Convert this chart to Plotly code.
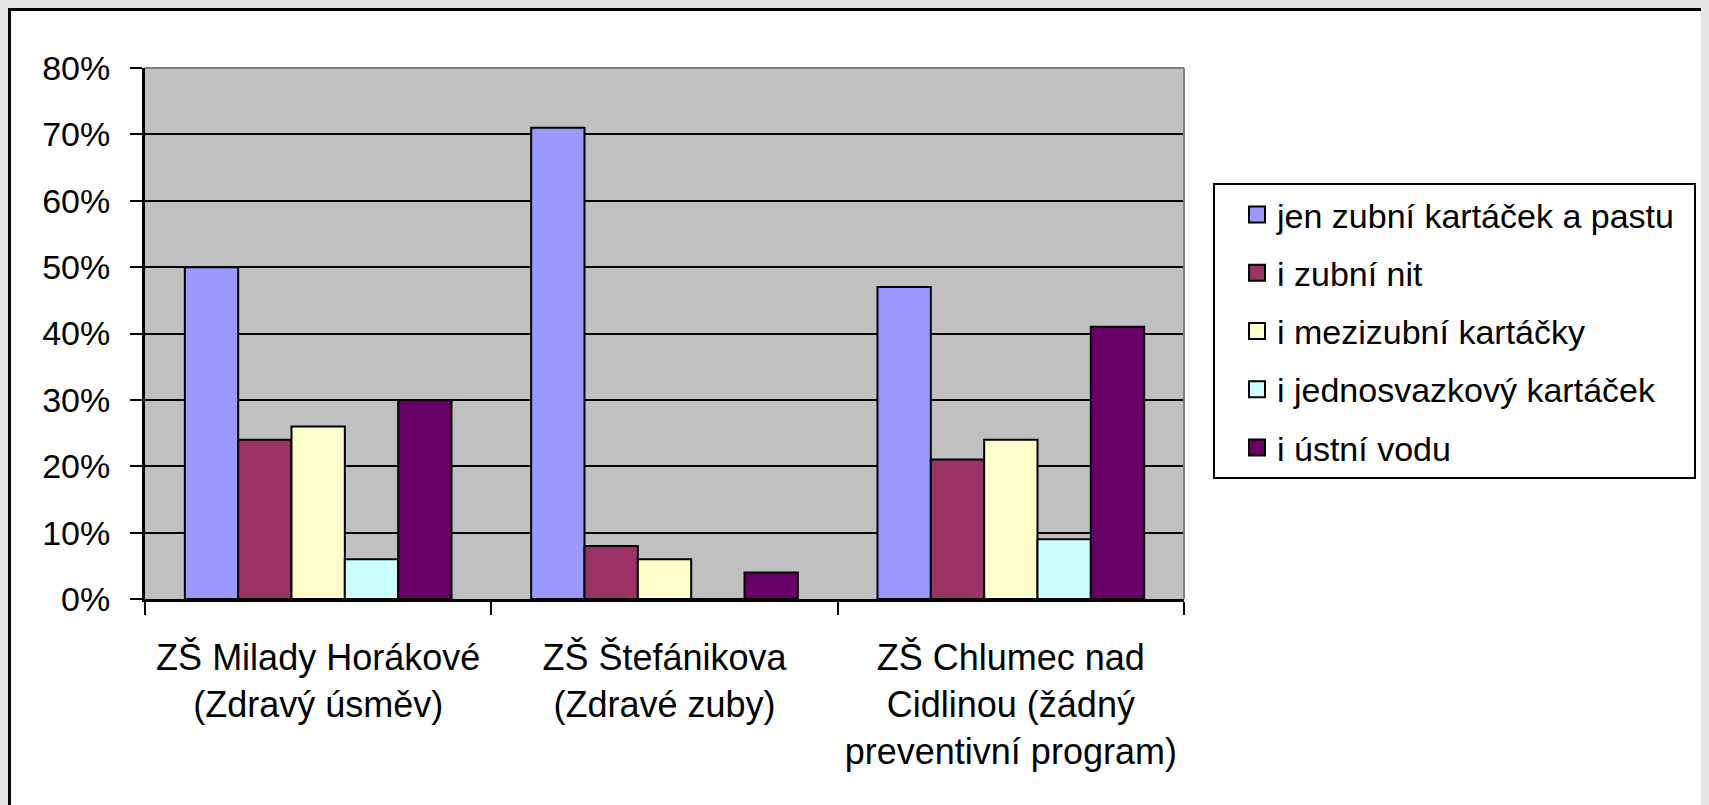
import plotly.graph_objects as go

# ---- data ----
schools = [
    "ZŠ Milady Horákové<br>(Zdravý úsměv)",
    "ZŠ Štefánikova<br>(Zdravé zuby)",
    "ZŠ Chlumec nad<br>Cidlinou (žádný<br>preventivní program)",
]
series_names = [
    "jen zubní kartáček a pastu",
    "i zubní nit",
    "i mezizubní kartáčky",
    "i jednosvazkový kartáček",
    "i ústní vodu",
]
brush_paste = [0.50, 0.71, 0.47]
floss = [0.24, 0.08, 0.21]
interdental = [0.26, 0.06, 0.24]
single_tuft = [0.06, 0.00, 0.09]
mouthwash = [0.30, 0.04, 0.41]
series_values = [brush_paste, floss, interdental, single_tuft, mouthwash]
y_ticks = [0, 0.1, 0.2, 0.3, 0.4, 0.5, 0.6, 0.7, 0.8]

colors = ["#9999FF", "#993366", "#FFFFCC", "#CCFFFF", "#660066"]
FONT = "Liberation Sans, Arial, sans-serif"

OFF = 8                      # page body margin
W, H = 1701, 797             # figure size (spans page 8..1709, 8..805)
# plot area in page px
PL, PR, PT, PB = 145, 1184, 68, 599
L, R, T, B = PL - OFF, PR - OFF, PT - OFF, PB - OFF


def px_x(x):  # page px -> paper x
    return (x - OFF - L) / (R - L)


def px_y(y):  # page px -> paper y
    return (B - (y - OFF)) / (B - T)


fig = go.Figure()
for name, vals, col in zip(series_names, series_values, colors):
    fig.add_trace(go.Bar(
        x=schools, y=vals, name=name, showlegend=False,
        marker=dict(color=col, line=dict(color="black", width=2)),
    ))
# legend proxies (bigger square swatches)
for i, (name, col) in enumerate(zip(series_names, colors)):
    fig.add_trace(go.Scatter(
        x=[None], y=[None], mode="markers", name=name, legendgroup=f"g{i}",
        marker=dict(symbol="square", size=16, color=col,
                    line=dict(color="black", width=2)),
    ))

shapes = [
    # outer frame (paper edge)
    dict(type="rect", xref="paper", yref="paper",
         x0=px_x(9.5), x1=px_x(1705.5), y0=px_y(900), y1=px_y(9.5),
         line=dict(color="black", width=3), fillcolor="rgba(0,0,0,0)", layer="above"),
    # plot-area top and right border (gray)
    dict(type="line", xref="paper", yref="paper", x0=0, x1=1, y0=1, y1=1,
         line=dict(color="#808080", width=2), layer="above"),
    dict(type="line", xref="paper", yref="paper", x0=1, x1=1, y0=0, y1=1,
         line=dict(color="#808080", width=2), layer="above"),
    # legend box
    dict(type="rect", xref="paper", yref="paper",
         x0=px_x(1214), x1=px_x(1695), y0=px_y(478), y1=px_y(184),
         line=dict(color="black", width=2), fillcolor="rgba(0,0,0,0)", layer="above"),
]

fig.update_layout(
    width=W, height=H,
    margin=dict(l=L, r=W - R, t=T, b=H - B, pad=0),
    paper_bgcolor="white",
    plot_bgcolor="#C0C0C0",
    barmode="group",
    bargap=0.23,
    bargroupgap=0,
    font=dict(family=FONT, size=34, color="black"),
    showlegend=True,
    legend=dict(
        x=px_x(1237), xanchor="left", y=px_y(186), yanchor="top",
        bgcolor="rgba(0,0,0,0)", borderwidth=0,
        font=dict(family=FONT, size=34, color="black"),
        tracegroupgap=11,
    ),
    shapes=shapes,
)
fig.update_yaxes(
    range=[0, 0.8], tickvals=y_ticks, tickformat=".0%",
    showgrid=True, gridcolor="black", gridwidth=2,
    showline=True, linecolor="black", linewidth=3,
    ticks="outside", ticklen=12, tickwidth=2, tickcolor="black",
    ticklabelstandoff=13,
    zeroline=False,
    tickfont=dict(family=FONT, size=34),
)
fig.update_xaxes(
    type="category", tickson="boundaries",
    showline=True, linecolor="black", linewidth=3,
    ticks="outside", ticklen=13, tickwidth=2, tickcolor="black",
    showgrid=False,
    ticklabelstandoff=25,
    tickfont=dict(family=FONT, size=36),
)

fig.write_html("out.html", post_script="document.body.style.background='#e6e6e6';")
